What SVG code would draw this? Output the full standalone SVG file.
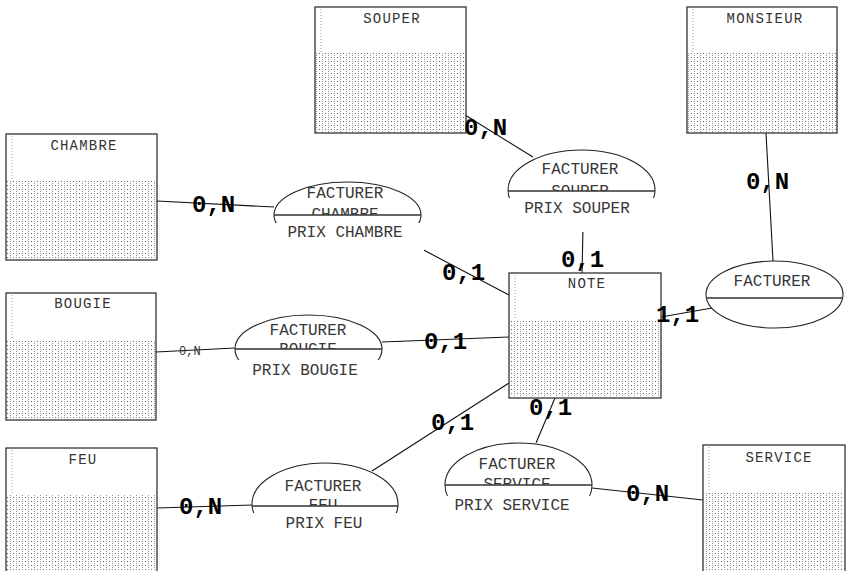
<svg xmlns="http://www.w3.org/2000/svg" width="848" height="571" viewBox="0 0 848 571">
<style>
.ent{fill:#fff;stroke:#333;stroke-width:1.3}
.dots{fill:url(#dots)}
.inner{stroke:#999;stroke-width:1;stroke-dasharray:1 2;fill:none}
.title{font-family:"Courier New","Liberation Mono",monospace;font-size:14px;letter-spacing:1.2px;fill:#333;text-anchor:middle}
.rel{fill:#fff;stroke:#222;stroke-width:1.1}
.div{stroke:#333;stroke-width:1.5}
.cover{fill:#fff}
.rt{font-family:"Courier New","Liberation Mono",monospace;font-size:16px;fill:#383838;text-anchor:middle}
.conn line{stroke:#111;stroke-width:1.1}
.lab{font-family:"Courier New","Liberation Mono",monospace;font-size:24px;font-weight:bold;fill:#000}
.slab{font-family:"Courier New","Liberation Mono",monospace;font-size:12px;fill:#333}
</style>
<defs>
<pattern id="dots" width="6" height="4" patternUnits="userSpaceOnUse">
<rect x="1" y="1" width="1" height="1" fill="#666"/>
<rect x="4" y="1" width="1" height="1" fill="#999"/>
<rect x="4" y="3" width="1" height="1" fill="#999"/>
</pattern>
<clipPath id="cCH"><rect x="270" y="170" width="160" height="45"/></clipPath>
<clipPath id="cSO"><rect x="500" y="140" width="165" height="51"/></clipPath>
<clipPath id="cBO"><rect x="230" y="310" width="160" height="39"/></clipPath>
<clipPath id="cFE"><rect x="245" y="455" width="160" height="51"/></clipPath>
<clipPath id="cSE"><rect x="440" y="440" width="160" height="45"/></clipPath>
</defs>

<g id="connectors" class="conn">
<line x1="465" y1="115" x2="533" y2="157"/>
<line x1="583" y1="228" x2="582" y2="273"/>
<line x1="157" y1="201" x2="274" y2="207"/>
<line x1="416" y1="246" x2="509" y2="295"/>
<line x1="156" y1="352" x2="235" y2="348"/>
<line x1="382" y1="342" x2="509" y2="337"/>
<line x1="157" y1="508" x2="252" y2="505"/>
<line x1="372" y1="471" x2="509" y2="383"/>
<line x1="555" y1="398" x2="536" y2="443"/>
<line x1="592" y1="488" x2="703" y2="500"/>
<line x1="661" y1="317" x2="712" y2="308"/>
<line x1="766" y1="133" x2="773" y2="261"/>
</g>

<g id="SOUPER">
<rect class="ent" x="315" y="7" width="151" height="126"/>
<rect class="dots" x="316" y="53" width="149" height="79"/>
<line class="inner" x1="321" y1="9" x2="321" y2="53"/>
<text class="title" x="392" y="23">SOUPER</text>
</g>
<g id="MONSIEUR">
<rect class="ent" x="687" y="7" width="150" height="126"/>
<rect class="dots" x="688" y="53" width="148" height="79"/>
<line class="inner" x1="693" y1="9" x2="693" y2="53"/>
<text class="title" x="765" y="23">MONSIEUR</text>
</g>
<g id="CHAMBRE">
<rect class="ent" x="6" y="134" width="151" height="126"/>
<rect class="dots" x="7" y="180" width="149" height="79"/>
<line class="inner" x1="12" y1="136" x2="12" y2="180"/>
<text class="title" x="84" y="150">CHAMBRE</text>
</g>
<g id="BOUGIE">
<rect class="ent" x="6" y="293" width="150" height="127"/>
<rect class="dots" x="7" y="340" width="148" height="79"/>
<line class="inner" x1="12" y1="295" x2="12" y2="340"/>
<text class="title" x="83" y="308">BOUGIE</text>
</g>
<g id="FEU">
<rect class="ent" x="6" y="448" width="151" height="130"/>
<rect class="dots" x="7" y="495" width="149" height="82"/>
<line class="inner" x1="12" y1="450" x2="12" y2="495"/>
<text class="title" x="83" y="464">FEU</text>
</g>
<g id="NOTE">
<rect class="ent" x="509" y="273" width="152" height="125"/>
<rect class="dots" x="510" y="320" width="150" height="77"/>
<line class="inner" x1="515" y1="275" x2="515" y2="320"/>
<text class="title" x="587" y="288">NOTE</text>
</g>
<g id="SERVICE">
<rect class="ent" x="703" y="445" width="142" height="132"/>
<rect class="dots" x="704" y="492" width="140" height="84"/>
<line class="inner" x1="709" y1="447" x2="709" y2="492"/>
<text class="title" x="779" y="462">SERVICE</text>
</g>

<g id="FACTURER_CHAMBRE">
<ellipse class="rel" cx="347.5" cy="215" rx="73.5" ry="33"/>
<rect class="cover" x="272" y="223" width="152" height="28"/>
<line class="div" x1="274" y1="215" x2="421" y2="215"/>
<text class="rt" x="345" y="198">FACTURER</text>
<text class="rt" x="345" y="218.5" clip-path="url(#cCH)">CHAMBRE</text>
<text class="rt" x="345" y="236.5">PRIX CHAMBRE</text>
</g>
<g id="FACTURER_SOUPER">
<ellipse class="rel" cx="581.5" cy="190" rx="73.5" ry="40"/>
<rect class="cover" x="506" y="198" width="152" height="34"/>
<line class="div" x1="508" y1="191" x2="655" y2="191"/>
<text class="rt" x="580" y="174">FACTURER</text>
<text class="rt" x="580" y="195.5" clip-path="url(#cSO)">SOUPER</text>
<text class="rt" x="577" y="213">PRIX SOUPER</text>
</g>
<g id="FACTURER_BOUGIE">
<ellipse class="rel" cx="308.5" cy="349" rx="73.5" ry="34"/>
<rect class="cover" x="233" y="360" width="152" height="25"/>
<line class="div" x1="235" y1="349" x2="382" y2="349"/>
<text class="rt" x="308" y="335">FACTURER</text>
<text class="rt" x="308" y="353.5" clip-path="url(#cBO)">BOUGIE</text>
<text class="rt" x="305" y="375">PRIX BOUGIE</text>
</g>
<g id="FACTURER_FEU">
<ellipse class="rel" cx="325" cy="504" rx="73" ry="41"/>
<rect class="cover" x="250" y="513" width="150" height="34"/>
<line class="div" x1="252" y1="506" x2="398" y2="506"/>
<text class="rt" x="323" y="491">FACTURER</text>
<text class="rt" x="323" y="509.5" clip-path="url(#cFE)">FEU</text>
<text class="rt" x="324" y="527.5">PRIX FEU</text>
</g>
<g id="FACTURER_SERVICE">
<ellipse class="rel" cx="518.5" cy="485" rx="73.5" ry="42"/>
<rect class="cover" x="443" y="496" width="152" height="33"/>
<line class="div" x1="445" y1="485" x2="592" y2="485"/>
<text class="rt" x="517" y="469">FACTURER</text>
<text class="rt" x="517" y="488.5" clip-path="url(#cSE)">SERVICE</text>
<text class="rt" x="512" y="510">PRIX SERVICE</text>
</g>
<g id="FACTURER">
<ellipse class="rel" cx="774.5" cy="294.5" rx="68.5" ry="33.5"/>
<line class="div" x1="706.5" y1="298" x2="842.5" y2="298"/>
<text class="rt" x="772" y="286">FACTURER</text>
</g>

<g id="labels">
<text class="lab" x="464" y="135">0,N</text>
<text class="lab" x="561" y="267">0,1</text>
<text class="lab" x="192" y="212">0,N</text>
<text class="lab" x="442" y="280">0,1</text>
<text class="slab" x="179" y="355">0,N</text>
<text class="lab" x="424" y="349">0,1</text>
<text class="lab" x="431" y="430">0,1</text>
<text class="lab" x="179" y="514">0,N</text>
<text class="lab" x="529" y="415">0,1</text>
<text class="lab" x="626" y="501">0,N</text>
<text class="lab" x="746" y="189">0,N</text>
<text class="lab" x="656" y="322">1,1</text>
</g>
</svg>
